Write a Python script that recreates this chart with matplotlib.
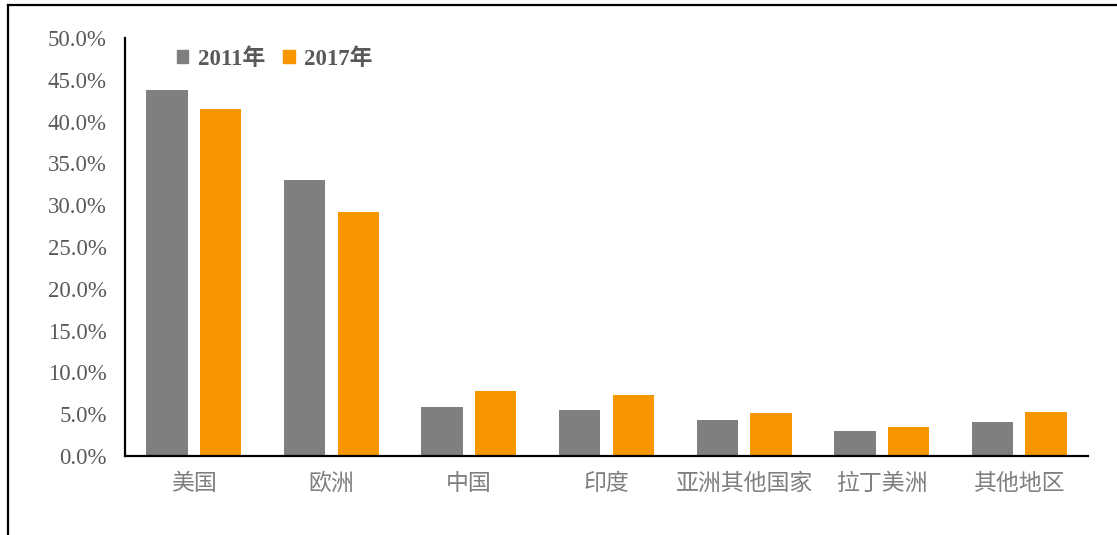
import matplotlib.pyplot as plt
from matplotlib.lines import Line2D
from matplotlib.patches import Patch
import numpy as np

# shares by region, %
regions = ['美国', '欧洲', '中国', '印度', '亚洲其他国家', '拉丁美洲', '其他地区']
share_2011 = [43.8, 33.0, 5.8, 5.5, 4.3, 3.0, 4.1]
share_2017 = [41.5, 29.2, 7.8, 7.3, 5.2, 3.5, 5.3]
yticks = [0, 5, 10, 15, 20, 25, 30, 35, 40, 45, 50]

GRAY = '#7F7F7F'
ORANGE = '#F89600'
TXT = '#595959'
FONTS = ['Liberation Serif', 'Noto Sans CJK SC']

plt.rcParams['font.family'] = FONTS

fig = plt.figure(figsize=(11.17, 5.35), dpi=100)
ax = fig.add_axes([0.1119, 0.1477, 0.8622, 0.7813])

x = np.arange(len(regions))
w = 0.3
off = 0.195
ax.bar(x - off, share_2011, w, color=GRAY, label='2011年')
ax.bar(x + off, share_2017, w, color=ORANGE, label='2017年')

ax.set_xlim(-0.5, len(regions) - 0.5)
ax.set_ylim(0, 50)
ax.set_yticks(yticks)
ax.set_yticklabels(['%.1f%%' % v for v in yticks], fontsize=16.5, color=TXT)
ax.set_xticks(x)
ax.set_xticklabels(regions, fontsize=16.5, color='#7F7F7F')
ax.tick_params(axis='both', length=0)
ax.tick_params(axis='y', pad=13)
ax.tick_params(axis='x', pad=13)

for s in ['top', 'right']:
    ax.spines[s].set_visible(False)
for s in ['left', 'bottom']:
    ax.spines[s].set_linewidth(1.6)
    ax.spines[s].set_color('black')

handles = [Patch(color=GRAY), Patch(color=ORANGE)]
leg = ax.legend(handles, ['2011年', '2017年'], loc='upper left',
                bbox_to_anchor=(0.054, 0.975), ncol=2, frameon=False,
                handlelength=0.5, handleheight=0.5, handletextpad=0.4,
                columnspacing=0.8, borderaxespad=0, borderpad=0,
                prop={'family': FONTS, 'size': 16.5, 'weight': 'bold'})
for t in leg.get_texts():
    t.set_color(TXT)

# outer frame: top and left edges only
fig.add_artist(Line2D([0.00716, 1.0], [0.9907, 0.9907], color='black',
                      lw=1.6, transform=fig.transFigure))
fig.add_artist(Line2D([0.00716, 0.00716], [0.0, 0.9907], color='black',
                      lw=1.6, transform=fig.transFigure))

fig.savefig('out.png', dpi=100)
